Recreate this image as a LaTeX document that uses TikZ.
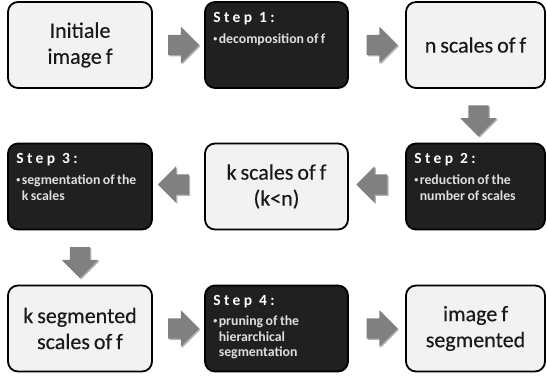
\documentclass[tikz,border=0pt]{standalone}
\usepackage{fontspec}
\setmainfont[WordSpace=0.8]{Carlito}
\newfontfamily\boxfont[WordSpace=0.8,FakeBold=0.35]{Carlito}
\newfontfamily\stepfont[LetterSpace=22]{Carlito}
\usetikzlibrary{shapes.arrows,shadows,calc}
\definecolor{lightfill}{RGB}{242,242,242}
\definecolor{darkfill}{RGB}{32,32,32}
\definecolor{arrowgray}{RGB}{128,128,128}
\definecolor{bulletgray}{RGB}{222,222,222}
\newcommand\smallbul{\raisebox{0.25ex}{\fontsize{8}{8}\selectfont\textbullet}}
\tikzset{
  boxbase/.style={rectangle, draw=black, line width=1.8pt, rounded corners=10pt,
    minimum height=86pt, inner sep=0pt},
  lightbox/.style={boxbase, fill=lightfill, align=center, text=black!90,
    font=\boxfont\fontsize{22}{26}\selectfont},
  darkbox/.style={boxbase, fill=darkfill},
  colA/.style={minimum width=144pt},
  colB/.style={minimum width=143pt},
  colC/.style={minimum width=139pt},
  stephead/.style={anchor=base west, inner sep=0pt, text=white,
    font=\stepfont\bfseries\fontsize{15.5}{17}\selectfont},
  stepbody/.style={anchor=base west, inner sep=0pt, text=bulletgray,
    font=\bfseries\fontsize{13.8}{15.5}\selectfont},
  blockarrow/.style={single arrow, fill=arrowgray, draw=none,
    minimum height=31pt, minimum width=0pt, inner xsep=0pt, inner ysep=10pt,
    single arrow head extend=8pt,
    drop shadow={shadow xshift=1.2pt, shadow yshift=-1.2pt, opacity=0.3, fill=black}},
}
\begin{document}
\begin{tikzpicture}[x=1pt,y=-1pt]
\useasboundingbox (0,0) rectangle (547,381);
% row 1
\node[lightbox, colA] (init) at (80,45) {Initiale\\image f};
\node[darkbox, colB] (s1) at (276.5,45) {};
\node[lightbox, colC] (nsc) at (475.5,45) {n scales of f};
% row 2
\node[darkbox, colA] (s3) at (80,186.5) {};
\node[lightbox, colB] (ksc) at (276.5,186.5) {k scales of f\\(k<n)};
\node[darkbox, colC] (s2) at (475.5,186.5) {};
% row 3
\node[lightbox, colA] (kseg) at (80,328.5) {k segmented\\scales of f};
\node[darkbox, colB] (s4) at (276.5,328.5) {};
\node[lightbox, colC] (fseg) at (475.5,328.5) {image f\\segmented};
% step texts
\node[stephead] (s1h) at ([shift={(9,21)}]s1.north west) {Step 1:};
\node[stepbody] (s1b) at ([shift={(9,42)}]s1.north west)
  {\begin{tabular}[t]{@{}l@{\hspace{1.5pt}}l@{}}\smallbul&decomposition of f\end{tabular}};
\node[stephead] (s2h) at ([shift={(9,21)}]s2.north west) {Step 2:};
\node[stepbody] (s2b) at ([shift={(9,42)}]s2.north west)
  {\begin{tabular}[t]{@{}l@{\hspace{1.5pt}}l@{}}\smallbul&reduction of the\\&number of scales\end{tabular}};
\node[stephead] (s3h) at ([shift={(9,21)}]s3.north west) {Step 3:};
\node[stepbody] (s3b) at ([shift={(9,42)}]s3.north west)
  {\begin{tabular}[t]{@{}l@{\hspace{1.5pt}}l@{}}\smallbul&segmentation of the\\&k scales\end{tabular}};
\node[stephead] (s4h) at ([shift={(9,21)}]s4.north west) {Step 4:};
\node[stepbody] (s4b) at ([shift={(9,41)}]s4.north west)
  {\begin{tabular}[t]{@{}l@{\hspace{1.5pt}}l@{}}\smallbul&pruning of the\\&hierarchical\\&segmentation\end{tabular}};
% block arrows (connectors)
\node[blockarrow] (a1) at ($(init.east)!0.5!(s1.west)$) {};
\node[blockarrow] (a2) at ($(s1.east)!0.5!(nsc.west)$) {};
\node[blockarrow, rotate=-90] (a3) at ([xshift=3pt]$(nsc.south)!0.5!(s2.north)$) {};
\node[blockarrow, shape border rotate=180] (a4) at ([yshift=2pt]$(s2.west)!0.5!(ksc.east)$) {};
\node[blockarrow, shape border rotate=180] (a5) at ([yshift=2pt]$(ksc.west)!0.5!(s3.east)$) {};
\node[blockarrow, rotate=-90] (a6) at ($(s3.south)!0.5!(kseg.north)$) {};
\node[blockarrow] (a7) at ($(kseg.east)!0.5!(s4.west)$) {};
\node[blockarrow] (a8) at ($(s4.east)!0.5!(fseg.west)$) {};
\end{tikzpicture}
\end{document}
